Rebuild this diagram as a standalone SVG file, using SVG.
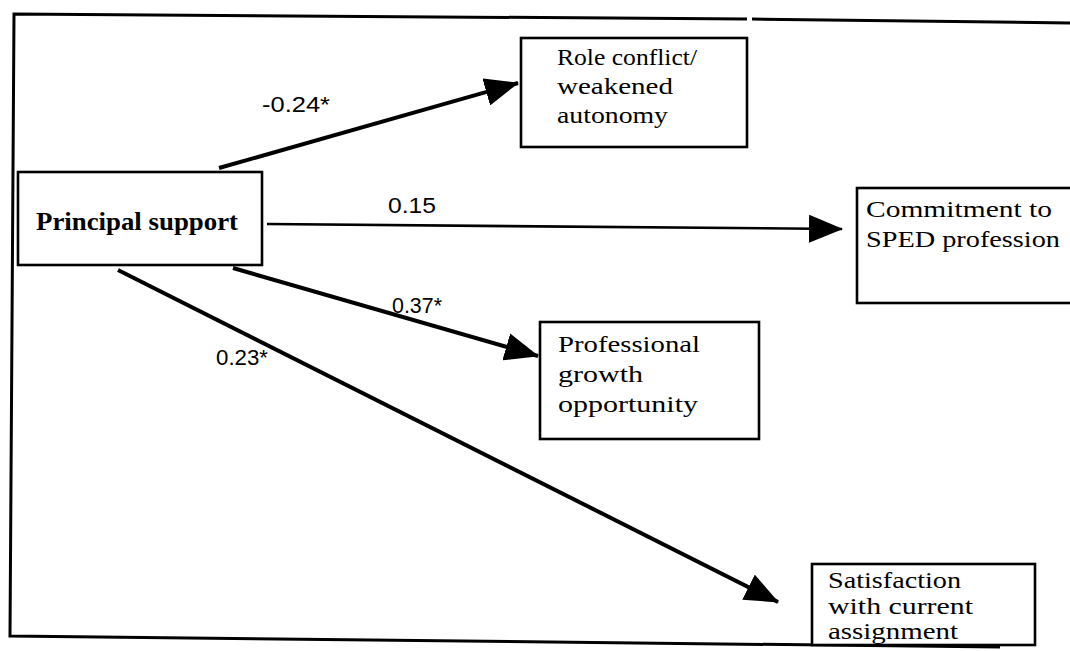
<svg xmlns="http://www.w3.org/2000/svg" width="1070" height="651" viewBox="0 0 1070 651">
<style>
.box{fill:#fff;stroke:#000;stroke-width:2.6}
.frame{fill:none;stroke:#000;stroke-width:3}
.t{font-family:"Liberation Serif",serif;font-size:24px;fill:#000}
.tb{font-family:"Liberation Serif",serif;font-size:25px;font-weight:bold;fill:#000}
.lab{font-family:"Liberation Sans",Arial,sans-serif;font-size:22px;fill:#000}
.arr{fill:none;stroke:#000;stroke-width:4}
.arr2{fill:none;stroke:#000;stroke-width:2.6}
</style>
<defs>
<marker id="ah" markerUnits="userSpaceOnUse" viewBox="0 0 34 28" refX="33" refY="14" markerWidth="34" markerHeight="28" orient="auto">
<path d="M0,0 L34,14 L0,28 z" fill="#000"/>
</marker>
</defs>
<rect width="1070" height="651" fill="#fff"/>
<g id="frame">
<path class="frame" d="M1070,23 L752,19 M747,19 L14,14 L10,636 L1000,647"/>
</g>
<g id="connectors">
<line class="arr" x1="219" y1="168" x2="518" y2="83" marker-end="url(#ah)"/>
<line class="arr2" x1="267" y1="224" x2="842" y2="229" marker-end="url(#ah)"/>
<line class="arr" x1="233" y1="268" x2="538" y2="356" marker-end="url(#ah)"/>
<line class="arr" x1="118" y1="270" x2="778" y2="602" marker-end="url(#ah)"/>
<text class="lab" x="262" y="112" textLength="68" lengthAdjust="spacingAndGlyphs">-0.24*</text>
<text class="lab" x="388" y="213" textLength="48" lengthAdjust="spacingAndGlyphs">0.15</text>
<text class="lab" x="392" y="313" textLength="50" lengthAdjust="spacingAndGlyphs">0.37*</text>
<text class="lab" x="216" y="365" textLength="52" lengthAdjust="spacingAndGlyphs">0.23*</text>
</g>
<g id="principal">
<rect class="box" x="18" y="172" width="244" height="93"/>
<text class="tb" x="36" y="230" textLength="202" lengthAdjust="spacingAndGlyphs">Principal support</text>
</g>
<g id="role">
<rect class="box" x="521" y="38" width="226" height="109"/>
<text class="t" x="557" y="65" textLength="140" lengthAdjust="spacingAndGlyphs">Role conflict/</text>
<text class="t" x="557" y="94" textLength="116" lengthAdjust="spacingAndGlyphs">weakened</text>
<text class="t" x="557" y="123" textLength="111" lengthAdjust="spacingAndGlyphs">autonomy</text>
</g>
<g id="commitment">
<rect class="box" x="857" y="188" width="220" height="115"/>
<text class="t" x="866" y="217" textLength="186" lengthAdjust="spacingAndGlyphs">Commitment to</text>
<text class="t" x="866" y="247" textLength="194" lengthAdjust="spacingAndGlyphs">SPED profession</text>
</g>
<g id="professional">
<rect class="box" x="540" y="322" width="219" height="117"/>
<text class="t" x="558" y="352" textLength="142" lengthAdjust="spacingAndGlyphs">Professional</text>
<text class="t" x="558" y="382" textLength="85" lengthAdjust="spacingAndGlyphs">growth</text>
<text class="t" x="558" y="412" textLength="140" lengthAdjust="spacingAndGlyphs">opportunity</text>
</g>
<g id="satisfaction">
<rect class="box" x="812" y="564" width="223" height="81"/>
<text class="t" x="828" y="588" textLength="133" lengthAdjust="spacingAndGlyphs">Satisfaction</text>
<text class="t" x="828" y="614" textLength="145" lengthAdjust="spacingAndGlyphs">with current</text>
<text class="t" x="828" y="639" textLength="130" lengthAdjust="spacingAndGlyphs">assignment</text>
</g>
</svg>
